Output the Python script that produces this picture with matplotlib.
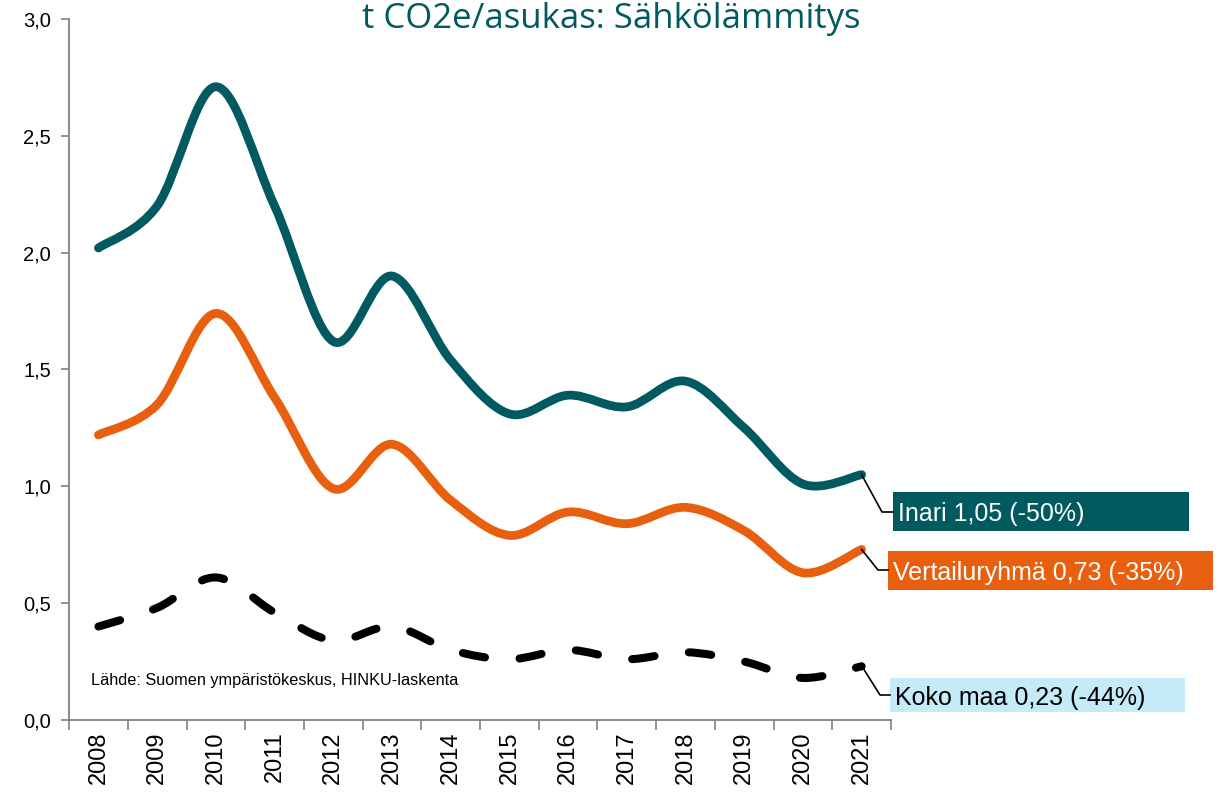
import numpy as np
import matplotlib
matplotlib.use("Agg")
import matplotlib.pyplot as plt
from matplotlib.path import Path
from matplotlib.patches import PathPatch, Rectangle
from matplotlib.lines import Line2D

years = [str(y) for y in range(2008, 2022)]
inari = [2.02, 2.20, 2.71, 2.20, 1.62, 1.90, 1.54, 1.31, 1.39, 1.34, 1.45, 1.25, 1.01, 1.05]
vertailu = [1.22, 1.35, 1.74, 1.38, 0.99, 1.18, 0.94, 0.79, 0.89, 0.84, 0.91, 0.81, 0.63, 0.73]
koko_maa = [0.40, 0.48, 0.61, 0.46, 0.34, 0.40, 0.30, 0.26, 0.30, 0.26, 0.29, 0.25, 0.18, 0.23]
labels = ["Inari 1,05 (-50%)", "Vertailuryhmä 0,73 (-35%)", "Koko maa 0,23 (-44%)"]

TEAL = "#005A5F"
ORANGE = "#E8600F"
LIGHTBLUE = "#C5EAF8"

plt.rcParams["font.family"] = ["Liberation Sans", "DejaVu Sans"]


def smooth_path(ys):
    # excel style smoothed line: cubic bezier through each point
    xs = np.arange(len(ys), dtype=float)
    pts = np.column_stack([xs, ys])
    verts = [pts[0]]
    codes = [Path.MOVETO]
    n = len(pts)
    for i in range(n - 1):
        p0 = pts[max(i - 1, 0)]
        p1 = pts[i]
        p2 = pts[i + 1]
        p3 = pts[min(i + 2, n - 1)]
        c1 = p1 + (p2 - p0) / 6.0
        c2 = p2 - (p3 - p1) / 6.0
        verts += [c1, c2, p2]
        codes += [Path.CURVE4] * 3
    return Path(verts, codes)


fig = plt.figure(figsize=(12.23, 7.94), dpi=100)
ax = fig.add_axes([0.0565, 0.0932, 0.672, 0.8829])

LW = 6.3
ax.add_patch(PathPatch(smooth_path(inari), fill=False, edgecolor=TEAL, lw=LW,
                       capstyle="round", joinstyle="round"))
ax.add_patch(PathPatch(smooth_path(vertailu), fill=False, edgecolor=ORANGE, lw=LW,
                       capstyle="round", joinstyle="round"))
ax.add_patch(PathPatch(smooth_path(koko_maa), fill=False, edgecolor="black", lw=5.8,
                       linestyle=(0, (2.8, 4.3)), capstyle="round", joinstyle="round"))

ax.set_xlim(-0.5, len(years) - 0.5)
ax.set_ylim(0, 3.0)
ax.set_yticks(np.arange(0, 3.01, 0.5))
ax.set_yticklabels([f"{v:.1f}".replace(".", ",") for v in np.arange(0, 3.01, 0.5)], fontsize=14.5)
ax.set_xticks(np.arange(-0.5, len(years), 1.0))
ax.set_xticklabels([])
ax.set_xticks(np.arange(len(years)), minor=True)
ax.set_xticklabels(years, minor=True, rotation=90, fontsize=17)
ax.tick_params(axis="x", which="major", length=7, color="#808080", width=1.2)
ax.tick_params(axis="x", which="minor", length=0, pad=8)
ax.tick_params(axis="y", length=6, color="#808080", width=1.2, pad=7)

for s in ["top", "right"]:
    ax.spines[s].set_visible(False)
for s in ["left", "bottom"]:
    ax.spines[s].set_color("#808080")
    ax.spines[s].set_linewidth(1.3)

fig.text(0.5, 1 - 28 / 794, "t CO2e/asukas: Sähkölämmitys", ha="center", va="baseline",
         fontsize=25, color=TEAL, family=["Open Sans", "DejaVu Sans"])

ax.text(0.027, 0.046, "Lähde: Suomen ympäristökeskus, HINKU-laskenta",
        transform=ax.transAxes, fontsize=11.7, va="bottom")

# label boxes on the right (figure pixels)
W, H = 1223.0, 794.0
boxes = [
    (893, 492, 1189, 531, TEAL, "white", inari[-1], (863, 476), (882, 512)),
    (888, 551, 1213, 590, ORANGE, "white", vertailu[-1], (863, 550), (878, 570)),
    (890, 678, 1185, 712, LIGHTBLUE, "black", None, (863, 668), (880, 695)),
]
for (x0, y0, x1, y1, fc, tc, endv, start, elbow), lab in zip(boxes, labels):
    fig.add_artist(Rectangle((x0 / W, 1 - y1 / H), (x1 - x0) / W, (y1 - y0) / H,
                             transform=fig.transFigure, facecolor=fc, edgecolor="none"))
    fig.text((x0 + 5) / W, 1 - (y0 + y1) / 2 / H, lab, color=tc, fontsize=18,
             va="center_baseline", ha="left")
    if endv is not None:
        sx, sy = fig.transFigure.inverted().transform(
            ax.transData.transform((len(years) - 1, endv)))
    else:
        sx, sy = start[0] / W, 1 - start[1] / H
    ex, ey = elbow[0] / W, 1 - elbow[1] / H
    fig.add_artist(Line2D([sx, ex, x0 / W], [sy, ey, ey], color="black", lw=1.2,
                          transform=fig.transFigure))

fig.savefig("out.png", dpi=100)
